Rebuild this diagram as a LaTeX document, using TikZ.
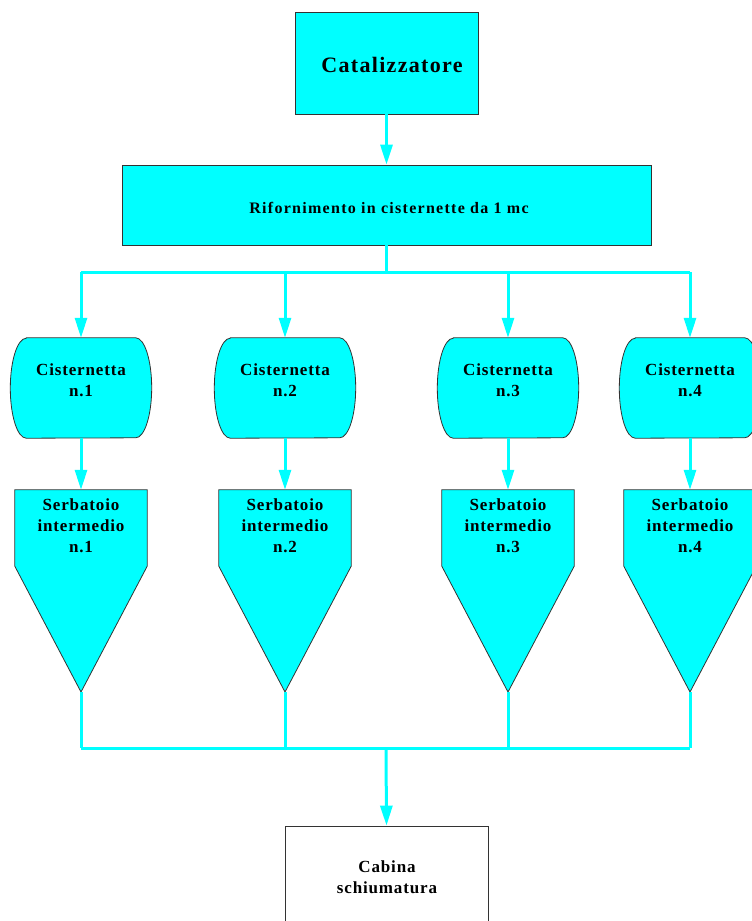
\documentclass[tikz,border=0pt]{standalone}
\usepackage{fontspec}
\setmainfont{Liberation Serif}
\usetikzlibrary{arrows.meta,calc}
\definecolor{aqua}{RGB}{0,255,255}
\definecolor{edge}{RGB}{51,51,51}
\newfontfamily\lblfont[LetterSpace=5]{Liberation Serif}
\newfontfamily\riffont[LetterSpace=8]{Liberation Serif}
\newfontfamily\catfont[LetterSpace=6]{Liberation Serif}
\begin{document}
\begin{tikzpicture}[x=1pt,y=-1pt,
  box/.style={draw=edge,line width=0.8pt,fill=aqua,inner sep=0pt},
  lbl/.style={inner sep=0pt,align=center,font=\lblfont\bfseries\fontsize{17}{21}\selectfont},
  link/.style={draw=aqua,line width=3pt},
  arr/.style={link,-{Triangle[length=20pt,width=12pt]}},
  shapeline/.style={draw=edge,line width=0.8pt,fill=aqua}]
\useasboundingbox (0,0) rectangle (752,921);
% top boxes
\node[box,minimum width=183pt,minimum height=102pt] (cat) at (386.5,63) {};
\node[inner sep=0pt,font=\catfont\bfseries\fontsize{22}{26}\selectfont] (catt) at (392,65) {Catalizzatore};
\node[box,minimum width=529pt,minimum height=80pt] (rif) at (386.5,205) {};
\node[inner sep=0pt,font=\riffont\bfseries\fontsize{16}{20}\selectfont] (rift) at (389,208) {Rifornimento in cisternette da 1 mc};
\draw[arr] (cat.south) -- (rif.north);
\coordinate (bt) at (386,272);
\draw[link] (rif.south -| bt) -- (bt);
% tanks
\foreach \i/\cx in {1/81,2/285,3/508,4/690}{
  \node[minimum width=141pt,minimum height=100pt,inner sep=0pt] (c\i) at (\cx,388) {};
  \path[shapeline] ($(c\i.north west)+(16,0)$) -- ($(c\i.north east)+(-16,0)$)
     arc[start angle=90,end angle=-90,x radius=16pt,y radius=50pt]
     -- ($(c\i.south west)+(16,0)$)
     arc[start angle=270,end angle=90,x radius=16pt,y radius=50pt] -- cycle;
  \node[lbl] (ct\i) at (\cx,380) {Cisternetta\\n.\i};
  \node[minimum width=132pt,minimum height=76pt,inner sep=0pt] (s\i) at (\cx,528) {};
  \coordinate (t\i) at (\cx,692);
  \path[shapeline] (s\i.north west) -- (s\i.north east) -- (s\i.south east) -- (t\i) -- (s\i.south west) -- cycle;
  \node[lbl,anchor=north] (st\i) at (\cx,498) {Serbatoio\\intermedio\\n.\i};
  \draw[arr] (c\i.north |- bt) -- (c\i.north);
  \draw[arr] (c\i.south) -- (s\i.north);
  \draw[link] (t\i) -- (\cx,748);
}
\draw[link] (c1.north |- bt) -- (c4.north |- bt);
\coordinate (bb) at (386,748);
\draw[link] (t1 |- bb) -- (t4 |- bb);
% cabina
\node[draw=edge,line width=0.8pt,fill=white,minimum width=203pt,minimum height=110pt,inner sep=0pt] (cab) at (386.5,881) {};
\node[lbl] (cabt) at (387,877) {Cabina\\schiumatura};
\draw[arr] (bb) -- (cab.north);
\end{tikzpicture}
\end{document}
